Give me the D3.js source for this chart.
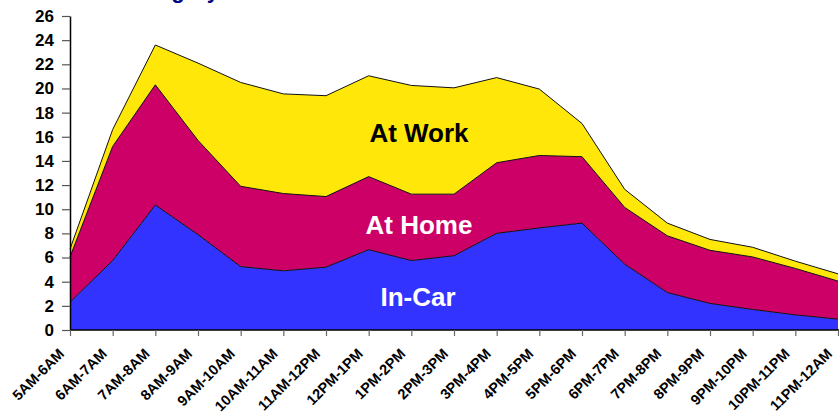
<!DOCTYPE html>
<html>
<head>
<meta charset="utf-8">
<script src="https://cdn.jsdelivr.net/npm/d3@7/dist/d3.min.js"></script>
<style>
  html, body { margin: 0; padding: 0; background: #fff; }
  svg { display: block; font-family: "Liberation Sans", Arial, sans-serif; }
</style>
</head>
<body>
<div id="chart"></div>
<script>
// hour slots along the x axis
var categories = ['5AM-6AM','6AM-7AM','7AM-8AM','8AM-9AM','9AM-10AM','10AM-11AM','11AM-12PM',
  '12PM-1PM','1PM-2PM','2PM-3PM','3PM-4PM','4PM-5PM','5PM-6PM','6PM-7PM','7PM-8PM',
  '8PM-9PM','9PM-10PM','10PM-11PM','11PM-12AM'];

// values per series (stacked bottom to top)
var inCar  = [2.3, 5.75, 10.35, 7.9, 5.25, 4.9, 5.2, 6.65, 5.75, 6.15, 8.0, 8.45, 8.85, 5.45, 3.1, 2.2, 1.7, 1.25, 0.9];
var atHome = [3.75, 9.45, 9.95, 7.8, 6.65, 6.4, 5.85, 6.05, 5.5, 5.1, 5.85, 6.0, 5.5, 4.7, 4.7, 4.4, 4.35, 3.85, 3.15];
var atWork = [0.65, 1.4, 3.3, 6.4, 8.6, 8.25, 8.35, 8.35, 9.0, 8.8, 7.05, 5.5, 2.75, 1.5, 1.05, 0.9, 0.8, 0.6, 0.6];

var yTicks = d3.range(0, 27, 2);

(function(){
  var W = 839, H = 419;
  var m = {left: 70, right: 838, top: 16, bottom: 330};

  var svg = d3.select('#chart').append('svg')
      .attr('width', W).attr('height', H);

  var x = d3.scalePoint().domain(categories).range([m.left, m.right]);
  var y = d3.scaleLinear().domain([0, 26]).range([m.bottom, m.top]);

  var rows = categories.map(function(c, i){
    return {cat: c, inCar: inCar[i], atHome: atHome[i], atWork: atWork[i]};
  });

  var keys = ['inCar', 'atHome', 'atWork'];
  var colors = {inCar: '#3333ff', atHome: '#cc0066', atWork: '#ffe70a'};

  var series = d3.stack().keys(keys)(rows);

  var area = d3.area()
      .x(function(d){ return x(d.data.cat); })
      .y0(function(d){ return y(d[0]); })
      .y1(function(d){ return y(d[1]); });

  var line = d3.line()
      .x(function(d){ return x(d.data.cat); })
      .y(function(d){ return y(d[1]); });

  svg.selectAll('path.area')
    .data(series.slice().reverse())
    .enter().append('path').attr('class', 'area')
    .attr('d', area)
    .attr('fill', function(d){ return colors[d.key]; });

  svg.selectAll('path.edge')
    .data(series)
    .enter().append('path').attr('class', 'edge')
    .attr('d', line)
    .attr('fill', 'none')
    .attr('stroke', '#111')
    .attr('stroke-width', 1);

  // title, cut off at top of frame
  svg.append('text')
    .attr('x', 219).attr('y', -2)
    .attr('text-anchor', 'end')
    .attr('fill', '#000080')
    .style('font-size', '22px').style('font-weight', 'bold')
    .text('Location Category');

  // y axis
  var yAxis = svg.append('g')
    .attr('transform', 'translate(' + m.left + ',0)')
    .call(d3.axisLeft(y).tickValues(yTicks).tickSize(8).tickSizeOuter(0).tickPadding(8));
  yAxis.select('.domain').attr('stroke', '#000').attr('stroke-width', 1.5);
  yAxis.selectAll('.tick line').attr('stroke', '#555').attr('stroke-width', 1.2);
  yAxis.selectAll('.tick text')
    .attr('fill', '#000')
    .style('font-size', '17px').style('font-weight', 'bold')
    .style('font-family', '"Liberation Sans", Arial, sans-serif');

  // x axis
  var xAxis = svg.append('g')
    .attr('transform', 'translate(0,' + m.bottom + ')')
    .call(d3.axisBottom(x).tickSize(6).tickSizeOuter(0));
  xAxis.select('.domain').attr('d', 'M' + m.left + ',0H' + W).attr('stroke', '#000').attr('stroke-width', 1.5);
  xAxis.selectAll('.tick line').attr('stroke', '#666').attr('stroke-width', 1.2);
  xAxis.selectAll('.tick text')
    .attr('fill', '#000')
    .attr('text-anchor', 'end')
    .attr('transform', 'translate(-9,21) rotate(-45)')
    .attr('x', 0).attr('y', 0).attr('dy', '0.35em')
    .style('font-size', '14.5px').style('font-weight', 'bold')
    .style('font-family', '"Liberation Sans", Arial, sans-serif');

  // series labels
  var labels = [
    {text: 'At Work', x: 419, y: 142, fill: '#000'},
    {text: 'At Home', x: 419, y: 234, fill: '#fff'},
    {text: 'In-Car',  x: 418, y: 306, fill: '#fff'}
  ];
  svg.selectAll('text.lbl')
    .data(labels)
    .enter().append('text').attr('class', 'lbl')
    .attr('x', function(d){ return d.x; })
    .attr('y', function(d){ return d.y; })
    .attr('text-anchor', 'middle')
    .attr('fill', function(d){ return d.fill; })
    .style('font-size', '26px').style('font-weight', 'bold')
    .text(function(d){ return d.text; });
})();
</script>
</body>
</html>
